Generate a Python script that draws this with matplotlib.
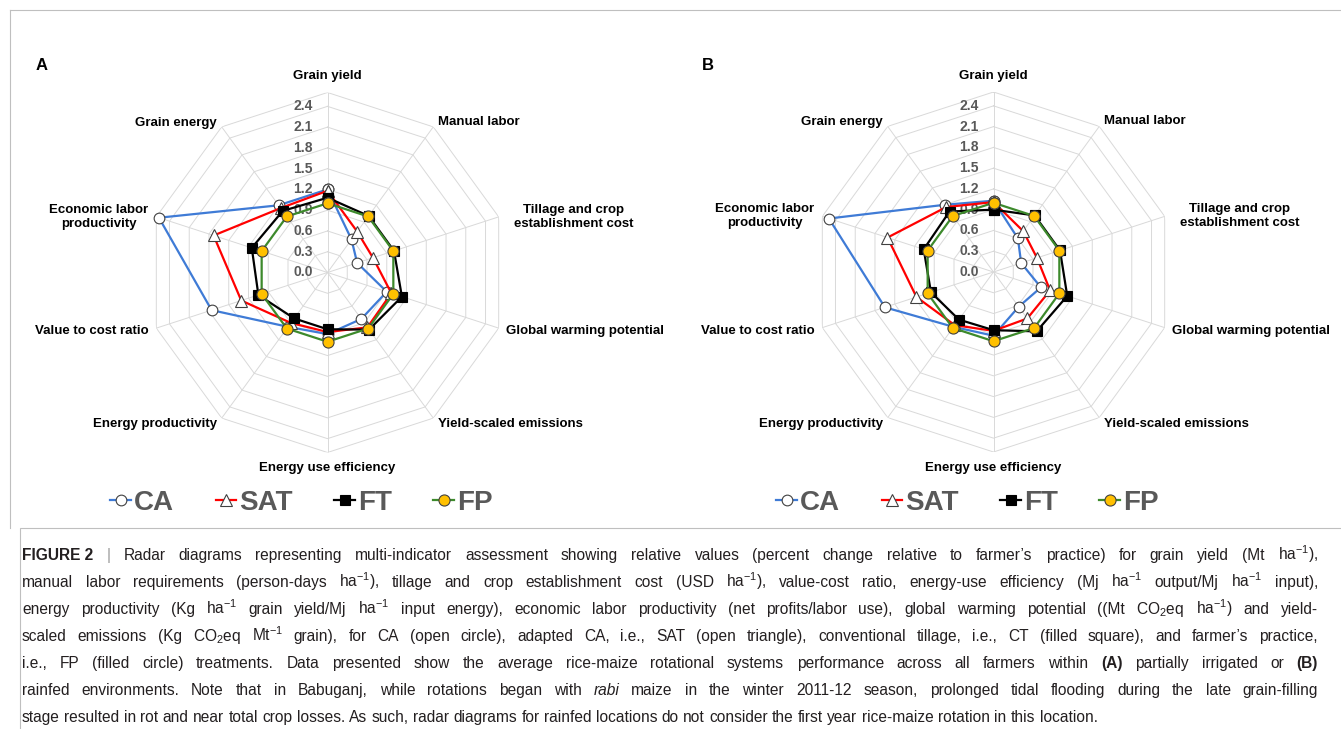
import numpy as np
import matplotlib
matplotlib.use('Agg')
import matplotlib.pyplot as plt
from matplotlib.transforms import offset_copy
from matplotlib.lines import Line2D
from matplotlib.patches import Rectangle

plt.rcParams['font.family'] = ['Liberation Sans', 'DejaVu Sans']
plt.rcParams['mathtext.fontset'] = 'custom'
plt.rcParams['mathtext.rm'] = 'Liberation Sans'
plt.rcParams['mathtext.it'] = 'Liberation Sans:italic'
plt.rcParams['mathtext.bf'] = 'Liberation Sans:bold'

# ---- data ----
indicators = ['Grain yield', 'Manual labor', 'Tillage and crop\nestablishment cost',
              'Global warming potential', 'Yield-scaled emissions', 'Energy use efficiency',
              'Energy productivity', 'Value to cost ratio', 'Economic labor\nproductivity',
              'Grain energy']
treatments = ['CA', 'SAT', 'FT', 'FP']

# (A) partially irrigated
ca_a = [1.20, 0.59, 0.45, 0.90, 0.83, 0.89, 0.97, 1.76, 2.56, 1.20]
sat_a = [1.18, 0.73, 0.69, 0.97, 0.98, 0.86, 0.90, 1.31, 1.73, 1.15]
ft_a = [1.08, 1.01, 1.01, 1.13, 1.02, 0.82, 0.82, 1.05, 1.15, 1.10]
fp_a = [1.00, 1.00, 1.00, 1.00, 1.00, 1.00, 1.00, 1.00, 1.00, 1.00]

# (B) rainfed
ca_b = [1.03, 0.60, 0.42, 0.72, 0.62, 0.92, 0.98, 1.65, 2.50, 1.20]
sat_b = [1.01, 0.73, 0.66, 0.86, 0.83, 0.85, 0.95, 1.17, 1.61, 1.16]
ft_b = [0.90, 1.01, 1.01, 1.12, 1.06, 0.84, 0.85, 0.95, 1.06, 1.08]
fp_b = [1.00, 1.00, 1.00, 1.00, 1.00, 1.00, 1.00, 1.00, 1.00, 1.00]

tick_vals = [0.0, 0.3, 0.6, 0.9, 1.2, 1.5, 1.8, 2.1, 2.4]
r_max = 2.6

# ---- styles ----
styles = {
    'CA': dict(color='#3f7bd6', marker='o', mfc='white', mec='#404040', ms=7.7, mew=0.8),
    'SAT': dict(color='#ff0000', marker='^', mfc='white', mec='#404040', ms=8.5, mew=0.8),
    'FT': dict(color='black', marker='s', mfc='black', mec='black', ms=7, mew=0.8),
    'FP': dict(color='#3d8a2c', marker='o', mfc='#ffc000', mec='#404040', ms=8, mew=0.8),
}
grid_col = '#d9d9d9'
tick_col = '#595959'

W, H = 1341, 729
fig = plt.figure(figsize=(W / 100, H / 100), dpi=100)
R = 180  # outer ring radius in px

# label placement: (ha, dx, dy) offsets in px from the spoke end
label_pos = [('center', 0, 16), ('left', 5, 5), ('left', 15, 0), ('left', 7, -3),
             ('left', 5, -6), ('center', 0, -16), ('right', -5, -6), ('right', -8, -3),
             ('right', -8, 0), ('right', -5, 4)]


def radar(cx, cy, series, letter):
    ax = fig.add_axes([(cx - R) / W, (H - cy - R) / H, 2 * R / W, 2 * R / H],
                      projection='polar')
    ax.set_theta_zero_location('N')
    ax.set_theta_direction(-1)
    ax.set_ylim(0, r_max)
    ax.grid(False)
    ax.spines['polar'].set_visible(False)
    ax.set_xticks([])
    ax.set_yticks([])
    ax.patch.set_alpha(0)

    theta = np.linspace(0, 2 * np.pi, len(indicators), endpoint=False)
    theta_c = np.append(theta, theta[0])

    # decagon grid
    for lev in tick_vals[1:] + [r_max]:
        ax.plot(theta_c, [lev] * len(theta_c), color=grid_col, lw=0.7, zorder=1)
    for t in theta:
        ax.plot([t, t], [0, r_max], color=grid_col, lw=0.7, zorder=1)

    # value labels
    tr = offset_copy(ax.transData, fig=fig, x=-15, y=0, units='dots')
    for v in tick_vals:
        ax.text(0, v, f'{v:.1f}', transform=tr, ha='right', va='center',
                fontsize=10, fontweight='bold', color=tick_col, zorder=2)

    # category labels
    for t, lab, (ha, dx, dy) in zip(theta, indicators, label_pos):
        trl = offset_copy(ax.transData, fig=fig, x=dx, y=dy, units='dots')
        ax.text(t, r_max, lab, transform=trl, ha=ha, va='center', multialignment='center',
                fontsize=9.5, fontweight='bold', color='black', clip_on=False)

    for name, vals in zip(treatments, series):
        st = styles[name]
        ax.plot(theta_c, list(vals) + [vals[0]], lw=1.6, zorder=3, clip_on=False, **st)

    fig.text((cx - 286) / W, 1 - 66 / H, letter, fontsize=12, fontweight='bold',
             ha='center', va='center')

    handles = [Line2D([], [], lw=1.6, **styles[n]) for n in treatments]
    leg = fig.legend(handles, treatments, loc='center', bbox_to_anchor=((cx - 26) / W, 1 - 503 / H),
                     ncol=4, frameon=False, handlelength=0.75, handletextpad=0.1,
                     columnspacing=1.5, prop=dict(size=20, weight='bold'))
    for txt in leg.get_texts():
        txt.set_color(tick_col)
    return ax


radar(327.5, 272.5, [ca_a, sat_a, ft_a, fp_a], 'A')
radar(993.5, 272.0, [ca_b, sat_b, ft_b, fp_b], 'B')

# frames
fig.add_artist(Line2D([10 / W, 1], [1 - 10 / H, 1 - 10 / H], color='#bfbfbf', lw=0.8))
fig.add_artist(Line2D([10 / W, 10 / W], [1 - 10 / H, 1 - 528 / H], color='#bfbfbf', lw=0.8))
fig.add_artist(Rectangle((20 / W, -0.01), 1.0, 1 - 528 / H + 0.01, fill=False,
                         edgecolor='#bfbfbf', lw=0.8, transform=fig.transFigure))

# ---- caption ----
B = dict(fontweight='bold')
N = dict()
G = dict(color='#9a9a9a')
I = dict(fontstyle='italic')
caption = [
    [('FIGURE\u00a02', B), ('|', G), ('Radar diagrams representing multi-indicator assessment showing relative '
      'values (percent change relative to farmer\u2019s practice) for grain yield (Mt ha$^{-1}$),', N)],
    [('manual labor requirements (person-days ha$^{-1}$), tillage and crop establishment cost (USD ha$^{-1}$), '
      'value-cost ratio, energy-use efficiency (Mj ha$^{-1}$ output/Mj ha$^{-1}$ input),', N)],
    [('energy productivity (Kg ha$^{-1}$ grain yield/Mj ha$^{-1}$ input energy), economic labor productivity '
      '(net profits/labor use), global warming potential ((Mt CO$_2$eq ha$^{-1}$) and yield-', N)],
    [('scaled emissions (Kg CO$_2$eq Mt$^{-1}$ grain), for CA (open circle), adapted CA, i.e., SAT (open triangle), '
      'conventional tillage, i.e., CT (filled square), and farmer\u2019s practice,', N)],
    [('i.e., FP (filled circle) treatments. Data presented show the average rice-maize rotational systems '
      'performance across all farmers within', N), ('(A)', B), ('partially irrigated or', N), ('(B)', B)],
    [('rainfed environments. Note that in Babuganj, while rotations began with', N), ('rabi', I),
     ('maize in the winter 2011-12 season, prolonged tidal flooding during the late grain-filling', N)],
    [('stage resulted in rot and near total crop losses. As such, radar diagrams for rainfed locations do not '
      'consider the first year rice-maize rotation in this location.', N)],
]
x0, x1 = 22, 1318
cap_size = 11.2
renderer = fig.canvas.get_renderer()


def make_words(segs, size):
    words = []
    for txt, kw in segs:
        for w in txt.split(' '):
            if w:
                words.append((w, kw))
    texts = [fig.text(0, 0, w, fontsize=size, va='baseline', color=kw.get('color', '#231f20'),
                      fontweight=kw.get('fontweight', 'normal'), fontstyle=kw.get('fontstyle', 'normal'))
             for w, kw in words]
    widths = [t.get_window_extent(renderer).width for t in texts]
    return texts, widths


for i, segs in enumerate(caption):
    y = 1 - (560 + 27 * i) / H
    texts, widths = make_words(segs, cap_size)
    space = cap_size * 100 / 72 * 0.278
    if i < len(caption) - 1:
        gap = max(space, (x1 - x0 - sum(widths)) / (len(texts) - 1))
    else:
        gap = space
    x = x0
    for t, w in zip(texts, widths):
        t.set_x(x / W)
        t.set_y(y)
        x += w + gap

fig.savefig('out.png', dpi=100)
